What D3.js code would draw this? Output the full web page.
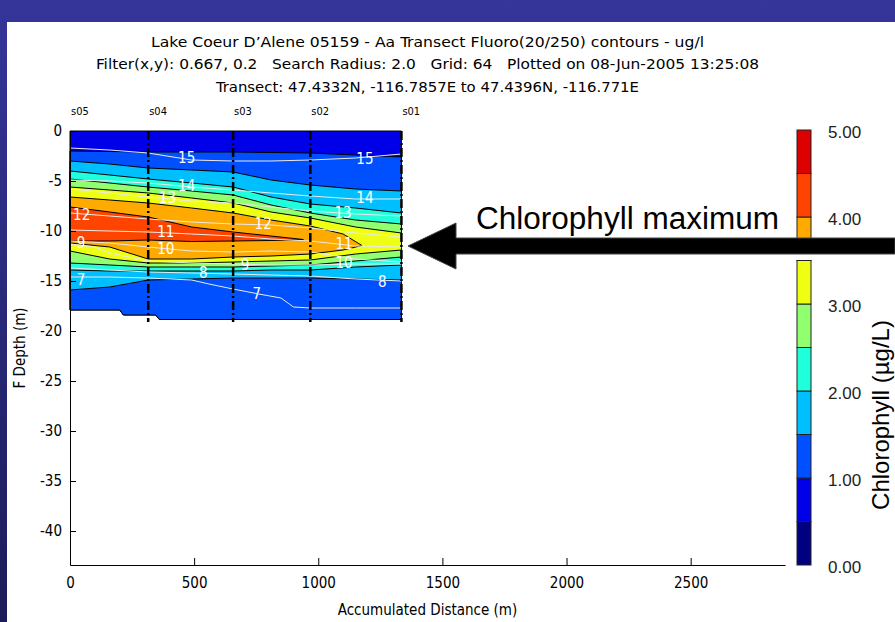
<!DOCTYPE html>
<meta charset="utf-8">
<script src="https://d3js.org/d3.v7.min.js"></script>
<style>
body { margin: 0; background: #fff; }
svg text { font-family: "Liberation Sans Narrow", "DejaVu Sans Condensed", "Liberation Sans", sans-serif; }
</style>
<div id="chart"></div>
<script>

// titles
var titleLines = [
  "Lake Coeur D\u2019Alene 05159 - Aa Transect Fluoro(20/250) contours - ug/l",
  "Filter(x,y): 0.667, 0.2   Search Radius: 2.0   Grid: 64   Plotted on 08-Jun-2005 13:25:08",
  "Transect: 47.4332N, -116.7857E to 47.4396N, -116.771E"
];

// stations along the transect (accumulated distance, m)
var stationNames = ["s05", "s04", "s03", "s02", "s01"];
var stationDist = [0, 315, 657, 968, 1335];

// distances where the contour depths were read (m)
var distX = [0, 160, 315, 490, 657, 810, 968, 1150, 1335];

// extent of the gridded data
var surfaceX = [0, 1335];
var surfaceD = [0, 0];
var bottomX = [0, 200, 215, 345, 360, 1335];
var bottomD = [-17.9, -17.9, -18.4, -18.4, -18.85, -18.85];

// filled chlorophyll contours: upper and lower edge of each level (depth, m)
var top10 = [-2.0, -2.05, -2.1, -2.1, -2.1, -2.15, -2.2, -2.4, -2.6];
var top15 = [-3.0, -3.3, -3.7, -3.9, -4.1, -4.9, -5.4, -5.8, -6.0];
var bot15 = [-15.9, -15.6, -14.9, -14.8, -14.7, -14.7, -14.7, -14.8, -14.9];
var top20 = [-4.0, -4.4, -4.8, -5.2, -5.6, -6.6, -7.3, -7.7, -8.2];
var bot20 = [-13.9, -14.0, -14.0, -14.0, -14.0, -13.9, -13.9, -13.6, -13.4];
var top25 = [-4.8, -5.2, -5.6, -6.0, -6.4, -7.4, -8.2, -8.9, -9.3];
var bot25 = [-13.2, -13.4, -13.6, -13.6, -13.6, -13.5, -13.4, -13.0, -12.6];
var top30 = [-5.6, -5.9, -6.2, -6.7, -7.2, -8.1, -8.7, -9.6, -10.2];
var bot30 = [-12.0, -12.8, -13.2, -13.2, -13.1, -13.0, -12.9, -12.3, -11.9];

var orangeX = [0, 160, 315, 490, 657, 810, 968, 1100, 1176];
var top35 = [-6.6, -6.9, -7.2, -7.7, -8.2, -8.9, -9.5, -10.3, -11.45];
var bot35 = [-11.2, -11.6, -12.8, -12.8, -12.6, -12.5, -12.3, -11.9, -11.45];

var redX = [0, 160, 315, 490, 657, 810, 940];
var top40 = [-7.6, -8.1, -8.6, -9.6, -10.1, -10.5, -10.85];
var bot40 = [-11.0, -11.0, -10.9, -11.05, -11.0, -10.95, -10.85];

// white isolines
var iso15 = [-1.7, -1.9, -2.2, -2.9, -3.0, -3.0, -2.9, -2.7, -2.3];
var iso14 = [-4.9, -5.0, -5.2, -5.6, -5.9, -6.2, -6.5, -6.8, -6.8];
var iso13 = [-5.8, -6.2, -6.6, -7.0, -7.2, -7.6, -8.0, -8.3, -8.5];
var iso12 = [-8.2, -8.5, -8.8, -9.1, -9.3, -9.4, -9.7, -10.2, -10.6];
var iso11 = [-9.9, -10.0, -10.1, -10.3, -10.5, -10.8, -11.0, -11.5, -11.6];
var iso10 = [-11.0, -11.2, -11.6, -12.0, -12.1, -12.0, -12.1, -12.8, -13.1];
var iso9X = [0, 100, 160, 315, 490, 657, 810, 968, 1150, 1335];
var iso9 = [-11.3, -11.6, -12.2, -13.0, -13.2, -13.3, -13.4, -13.4, -13.3, -13.3];
var iso8 = [-13.7, -13.9, -14.1, -14.2, -14.3, -14.4, -14.5, -14.8, -15.0];
var iso7X = [0, 160, 315, 490, 560, 657, 760, 850, 900, 968, 1150, 1335];
var iso7 = [-14.6, -14.6, -14.7, -14.9, -15.3, -15.8, -16.3, -16.7, -17.6, -17.7, -17.7, -17.7];

// isoline labels
var labelText = ["15", "15", "14", "14", "13", "13", "12", "12", "11", "11", "10", "10", "9", "9", "8", "8", "7", "7"];
var labelDist = [470, 1188, 470, 1188, 393, 1100, 47, 778, 386, 1104, 386, 1104, 44, 705, 537, 1258, 44, 752];
var labelDepth = [-2.65, -2.73, -5.5, -6.7, -6.65, -8.2, -8.4, -9.3, -10.1, -11.3, -11.75, -13.2, -11.2, -13.4, -14.15, -15.05, -14.9, -16.3];

// colour bar
var colorStops = [0, 0.5, 1, 1.5, 2, 2.5, 3, 3.5, 4, 4.5, 5];
var colorBand = ["#000080", "#0000e8", "#0050ff", "#00bfff", "#20ffdc", "#90ff70", "#eeff14", "#ffaa00", "#ff4400", "#dd0000"];
var colorTicks = [0, 1, 2, 3, 4, 5];

var xTicks = [0, 500, 1000, 1500, 2000, 2500];
var yTicks = [0, -5, -10, -15, -20, -25, -30, -35, -40];

var W = 895, H = 622;
var svg = d3.select("#chart").append("svg").attr("width", W).attr("height", H);

// slide background
var grad = svg.append("defs").append("linearGradient")
  .attr("id", "slide").attr("x1", 0).attr("y1", 0).attr("x2", 0).attr("y2", 1);
grad.append("stop").attr("offset", "0%").attr("stop-color", "#35359a");
grad.append("stop").attr("offset", "100%").attr("stop-color", "#1c1c58");
svg.append("rect").attr("width", W).attr("height", H).attr("fill", "url(#slide)");
svg.append("rect").attr("x", 7).attr("y", 22).attr("width", W - 7).attr("height", H - 22).attr("fill", "#fff");

// title
var titleLen = [553, 663, 423];
var titleY = [47, 69, 92];
titleLines.forEach(function(t, i) {
  svg.append("text")
    .attr("x", 427.5).attr("y", titleY[i])
    .attr("text-anchor", "middle")
    .attr("font-size", 14.5)
    .attr("textLength", titleLen[i])
    .attr("lengthAdjust", "spacingAndGlyphs")
    .style("white-space", "pre")
    .text(t);
});

// scales
var x = d3.scaleLinear().domain([0, 2880]).range([70, 785]);
var y = d3.scaleLinear().domain([0, -43.4]).range([131, 565]);

function band(ux, ud, lx, ld) {
  var pts = ux.map(function(v, i) { return [x(v), y(ud[i])]; });
  for (var i = lx.length - 1; i >= 0; i--) pts.push([x(lx[i]), y(ld[i])]);
  return d3.line()(pts) + "Z";
}

var bands = [
  [surfaceX, surfaceD, bottomX, bottomD, colorBand[1]],
  [distX, top10, bottomX, bottomD, colorBand[2]],
  [distX, top15, distX, bot15, colorBand[3]],
  [distX, top20, distX, bot20, colorBand[4]],
  [distX, top25, distX, bot25, colorBand[5]],
  [distX, top30, distX, bot30, colorBand[6]],
  [orangeX, top35, orangeX, bot35, colorBand[7]],
  [redX, top40, redX, bot40, colorBand[8]]
];

var plot = svg.append("g");
plot.selectAll("path.band")
  .data(bands)
  .enter()
  .append("path")
    .attr("class", "band")
    .attr("d", function(b) { return band(b[0], b[1], b[2], b[3]); })
    .attr("fill", function(b) { return b[4]; })
    .attr("stroke", "#000")
    .attr("stroke-width", 1);

// isolines
var isoLines = [
  [distX, iso15], [distX, iso14], [distX, iso13], [distX, iso12], [distX, iso11],
  [distX, iso10], [iso9X, iso9], [distX, iso8], [iso7X, iso7]
];
var line = d3.line();
plot.selectAll("path.iso")
  .data(isoLines)
  .enter()
  .append("path")
    .attr("class", "iso")
    .attr("d", function(l) { return line(l[0].map(function(v, i) { return [x(v), y(l[1][i])]; })); })
    .attr("fill", "none")
    .attr("stroke", "#eaeaea")
    .attr("stroke-width", 1);

plot.selectAll("text.iso")
  .data(labelText)
  .enter()
  .append("text")
    .attr("x", function(d, i) { return x(labelDist[i]); })
    .attr("y", function(d, i) { return y(labelDepth[i]); })
    .attr("dy", "0.36em")
    .attr("text-anchor", "middle")
    .attr("font-size", 15)
    .attr("fill", "#fff")
    .text(function(d) { return d; });

// station lines
plot.selectAll("line.st")
  .data(stationDist.slice(1))
  .enter()
  .append("line")
    .attr("x1", function(d) { return x(d); })
    .attr("x2", function(d) { return x(d); })
    .attr("y1", y(0))
    .attr("y2", y(-19.1))
    .attr("stroke", "#000")
    .attr("stroke-width", 2.5)
    .attr("stroke-dasharray", "9,3,2,3");

svg.selectAll("text.st")
  .data(stationNames)
  .enter()
  .append("text")
    .attr("x", function(d, i) { return x(stationDist[i]) + 1; })
    .attr("y", 115)
    .attr("font-size", 11)
    .text(function(d) { return d; });

// axes
var yAxis = svg.append("g")
  .attr("transform", "translate(" + x(0) + ",0)")
  .call(d3.axisLeft(y).tickValues(yTicks).tickSizeInner(-6).tickSizeOuter(0).tickPadding(8)
    .tickFormat(function(d) { return String(d); }));
var xAxis = svg.append("g")
  .attr("transform", "translate(0," + y.range()[1] + ")")
  .call(d3.axisBottom(x).tickValues(xTicks).tickSizeInner(-7).tickSizeOuter(0).tickPadding(12)
    .tickFormat(function(d) { return String(d); }));
[yAxis, xAxis].forEach(function(a) {
  a.selectAll("text").attr("font-size", 15).attr("fill", "#000")
    .style("font-family", '"Liberation Sans Narrow", "DejaVu Sans Condensed", sans-serif');
  a.selectAll("line").attr("stroke", "#000");
  a.select(".domain").attr("stroke", "#000");
});

svg.append("text")
  .attr("transform", "translate(25,348) rotate(-90)")
  .attr("text-anchor", "middle")
  .attr("font-size", 15)
  .text("F Depth (m)");
svg.append("text")
  .attr("x", 427.5).attr("y", 615)
  .attr("text-anchor", "middle")
  .attr("font-size", 15)
  .text("Accumulated Distance (m)");

// colour bar
var cy = d3.scaleLinear().domain([0, 5]).range([565, 130]);
svg.selectAll("rect.cb")
  .data(colorBand)
  .enter()
  .append("rect")
    .attr("x", 797).attr("width", 14)
    .attr("y", function(d, i) { return cy(colorStops[i + 1]); })
    .attr("height", function(d, i) { return cy(colorStops[i]) - cy(colorStops[i + 1]); })
    .attr("fill", function(d) { return d; })
    .attr("stroke", "#222")
    .attr("stroke-width", 1);
svg.selectAll("text.cb")
  .data(colorTicks)
  .enter()
  .append("text")
    .attr("x", 828)
    .attr("y", function(d) { return cy(d) + 2; })
    .attr("dy", "0.36em")
    .attr("font-size", 17)
    .attr("fill", "#222")
    .style("font-family", '"Liberation Sans", Arial, sans-serif')
    .text(function(d) { return d.toFixed(2); });
svg.append("text")
  .attr("transform", "translate(889,415) rotate(-90)")
  .attr("text-anchor", "middle")
  .attr("font-size", 24)
  .style("font-family", '"Liberation Sans", Arial, sans-serif')
  .text("Chlorophyll (\u00b5g/L)");

// annotation
svg.append("rect").attr("x", 456).attr("y", 238).attr("width", W - 456).attr("height", 22).attr("fill", "#fff");
svg.append("path")
  .attr("d", "M895,238 L456,238 L456,223 L408,246 L456,269 L456,254 L895,254 Z")
  .attr("fill", "#000")
  .attr("stroke", "#444")
  .attr("stroke-width", 1);
svg.append("text")
  .attr("x", 476).attr("y", 229)
  .attr("font-size", 31)
  .attr("textLength", 303)
  .attr("lengthAdjust", "spacingAndGlyphs")
  .style("font-family", '"Liberation Sans", Arial, sans-serif')
  .text("Chlorophyll maximum");

</script>
